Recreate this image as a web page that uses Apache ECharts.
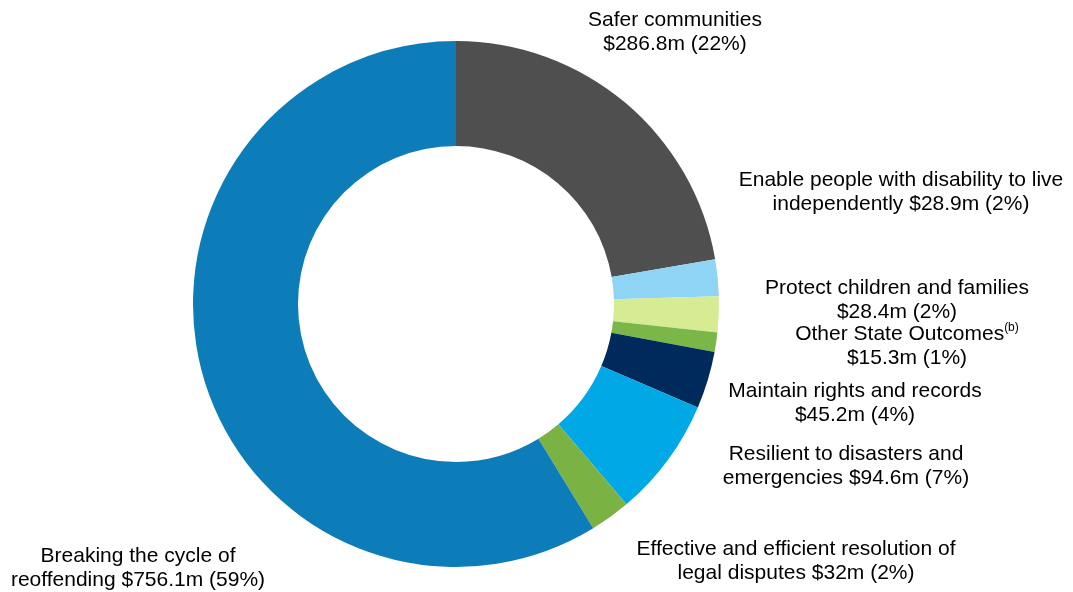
<!DOCTYPE html>
<html>
<head>
<meta charset="utf-8">
<script src="https://cdn.jsdelivr.net/npm/echarts@6/dist/echarts.min.js"></script>
<style>html,body{margin:0;padding:0;background:#fff;}#c{width:1073px;height:592px;}</style>
</head>
<body>
<div id="c"></div>
<script>
const categories = [
  'Safer communities',
  'Enable people with disability to live independently',
  'Protect children and families',
  'Other State Outcomes',
  'Maintain rights and records',
  'Resilient to disasters and emergencies',
  'Effective and efficient resolution of legal disputes',
  'Breaking the cycle of reoffending'
];
const values = [286.8, 28.9, 28.4, 15.3, 45.2, 94.6, 32, 756.1];
const valueText = ['$286.8m', '$28.9m', '$28.4m', '$15.3m', '$45.2m', '$94.6m', '$32m', '$756.1m'];
const percents = ['22%', '2%', '2%', '1%', '4%', '7%', '2%', '59%'];
const labelTexts = [
  'Safer communities\n{v} ({p})',
  'Enable people with disability to live\nindependently {v} ({p})',
  'Protect children and families\n{v} ({p})',
  'Other State Outcomes{sup|(b)}\n{v} ({p})',
  'Maintain rights and records\n{v} ({p})',
  'Resilient to disasters and\nemergencies {v} ({p})',
  'Effective and efficient resolution of\nlegal disputes {v} ({p})',
  'Breaking the cycle of\nreoffending {v} ({p})'
];
const colors = ['#4f4f4f', '#8fd3f5', '#d7eb93', '#7ab648', '#002a5c', '#00a9e6', '#7ab243', '#0d7dba'];
const labelPos = [
  [675, 32], [901, 192], [897, 300], [907, 346],
  [855, 403], [846, 466], [796, 561], [138, 568]
];

const chart = echarts.init(document.getElementById('c'), null, {renderer: 'canvas'});
const data = categories.map((n, i) => ({
  name: n,
  value: values[i],
  itemStyle: {color: colors[i]},
  label: {
    formatter: labelTexts[i].replace('{v}', valueText[i]).replace('{p}', percents[i])
  }
}));
chart.setOption({
  animation: false,
  series: [{
    type: 'pie',
    center: [456, 304],
    radius: [158, 263],
    startAngle: 90,
    clockwise: true,
    avoidLabelOverlap: false,
    itemStyle: {borderWidth: 0},
    labelLine: {show: false},
    label: {
      show: true,
      position: 'outside',
      fontFamily: 'Liberation Sans, Arial, sans-serif',
      fontSize: 21,
      lineHeight: 24,
      color: '#000',
      align: 'center',
      rich: {
        sup: {fontSize: 12, lineHeight: 24, verticalAlign: 'top', padding: [0, 0, 8, 0], fontFamily: 'Liberation Sans, Arial, sans-serif', color: '#000'}
      }
    },
    labelLayout: function (p) {
      const pos = labelPos[p.dataIndex];
      return {x: pos[0], y: pos[1], align: 'center', verticalAlign: 'middle', hideOverlap: false};
    },
    data: data
  }]
});
</script>
</body>
</html>
